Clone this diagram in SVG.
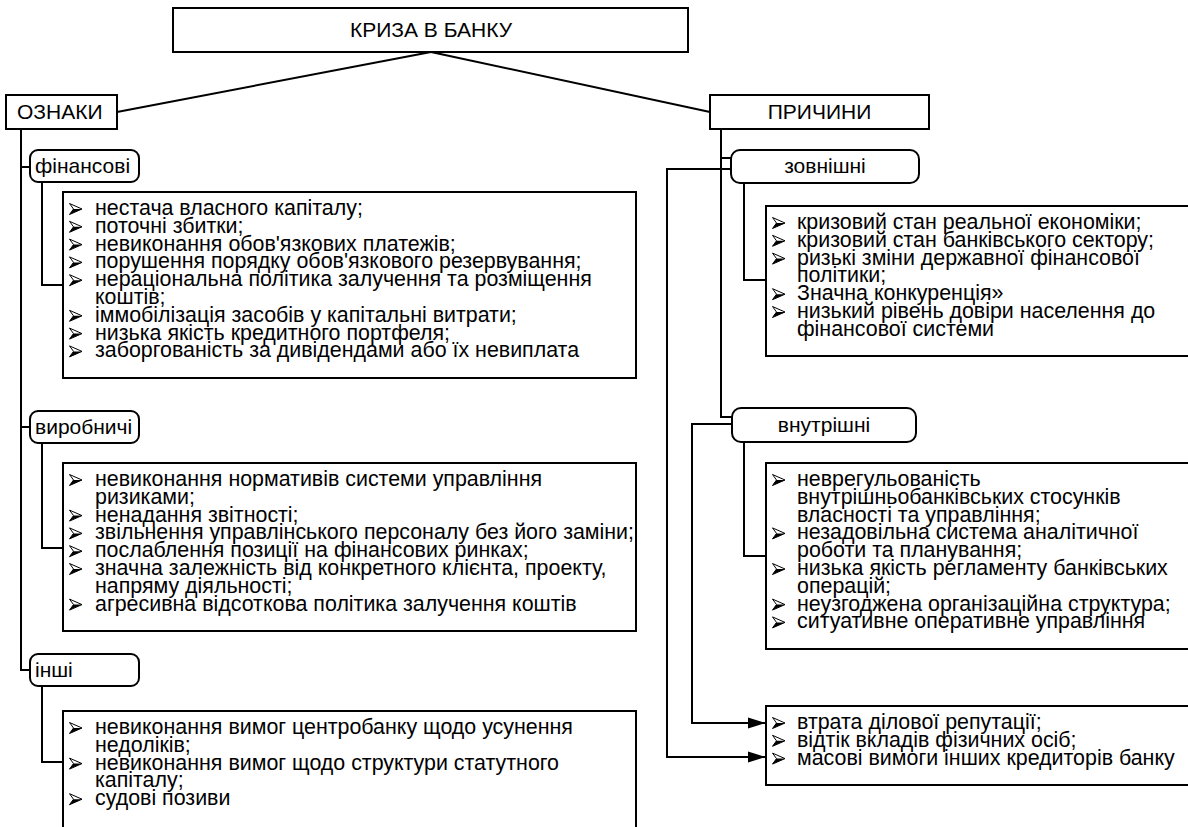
<svg xmlns="http://www.w3.org/2000/svg" xmlns:xlink="http://www.w3.org/1999/xlink" width="1188" height="827" viewBox="0 0 1188 827">
  <defs>
    <style>
      .box{fill:#fff;stroke:#000;stroke-width:2}
      .conn{fill:none;stroke:#000;stroke-width:2}
      text{font-family:"Liberation Sans",Arial,sans-serif;font-size:21px;fill:#000}
      .li text{font-size:21.4px}
      .mid{text-anchor:middle}
    </style>
    <!-- list bullet: shaded arrowhead -->
    <g id="bl">
      <polygon points="0.5,0.5 13,6 0.5,11.5 4.5,6" fill="#fff" stroke="#000" stroke-width="1" stroke-linejoin="round"/>
      <polygon points="4.5,6 13,6 0.5,11.5" fill="#000"/>
    </g>
    <marker id="arrow" markerUnits="userSpaceOnUse" markerWidth="18" markerHeight="12" refX="18" refY="6" orient="auto">
      <path d="M0,0.5 L18,6 L0,11.5 z" fill="#000"/>
    </marker>
  </defs>
  <rect width="1188" height="827" fill="#fff"/>

  <!-- connectors -->
  <g id="connectors" class="conn">
    <line x1="431" y1="52" x2="117" y2="112"/>
    <line x1="431" y1="52" x2="710" y2="112"/>
    <!-- left trunk -->
    <polyline points="21,129 21,670 30,670"/>
    <line x1="21" y1="167" x2="30" y2="167"/>
    <line x1="21" y1="427" x2="30" y2="427"/>
    <polyline points="42,182 42,285 63,285"/>
    <polyline points="42,443 42,548 63,548"/>
    <polyline points="42,686 42,762 63,762"/>
    <!-- right trunk -->
    <polyline points="721,129 721,417 732,417"/>
    <line x1="721" y1="158" x2="731" y2="158"/>
    <polyline points="744,183 744,280 766,280"/>
    <polyline points="744,442 744,556 766,556"/>
    <polyline points="731,169 667,169 667,757 766,757" marker-end="url(#arrow)"/>
    <polyline points="732,424 692,424 692,723 766,723" marker-end="url(#arrow)"/>
  </g>

  <g id="crisis">
    <rect class="box" x="173" y="8" width="515" height="44"/>
    <text class="mid" x="431" y="37">КРИЗА В БАНКУ</text>
  </g>

  <g id="signs">
    <rect class="box" x="6" y="95" width="111" height="34"/>
    <text x="17" y="119">ОЗНАКИ</text>
  </g>

  <g id="causes">
    <rect class="box" x="710" y="95" width="219" height="34"/>
    <text class="mid" x="819.5" y="119">ПРИЧИНИ</text>
  </g>

  <g id="financial">
    <rect class="box" x="30" y="150" width="109" height="32" rx="8"/>
    <text x="35" y="173">фінансові</text>
  </g>

  <g id="financial-list" class="li">
    <rect class="box" x="63" y="192" width="573" height="186"/>
    <use xlink:href="#bl" href="#bl" x="69" y="203"/>
    <use xlink:href="#bl" href="#bl" x="69" y="220.8"/>
    <use xlink:href="#bl" href="#bl" x="69" y="238.6"/>
    <use xlink:href="#bl" href="#bl" x="69" y="256.4"/>
    <use xlink:href="#bl" href="#bl" x="69" y="274.2"/>
    <use xlink:href="#bl" href="#bl" x="69" y="309.8"/>
    <use xlink:href="#bl" href="#bl" x="69" y="327.6"/>
    <use xlink:href="#bl" href="#bl" x="69" y="345.4"/>
    <text x="95" y="215">нестача власного капіталу;</text>
    <text x="95" y="232.8">поточні збитки;</text>
    <text x="95" y="250.6">невиконання обов'язкових платежів;</text>
    <text x="95" y="268.4">порушення порядку обов'язкового резервування;</text>
    <text x="95" y="286.2">нераціональна політика залучення та розміщення</text>
    <text x="95" y="304">коштів;</text>
    <text x="95" y="321.8">іммобілізація засобів у капітальні витрати;</text>
    <text x="95" y="339.6">низька якість кредитного портфеля;</text>
    <text x="95" y="357.4">заборгованість за дивідендами або їх невиплата</text>
  </g>

  <g id="production">
    <rect class="box" x="30" y="411" width="109" height="32" rx="8"/>
    <text x="35" y="434">виробничі</text>
  </g>

  <g id="production-list" class="li">
    <rect class="box" x="63" y="463" width="573" height="168"/>
    <use xlink:href="#bl" href="#bl" x="69" y="474"/>
    <use xlink:href="#bl" href="#bl" x="69" y="509.6"/>
    <use xlink:href="#bl" href="#bl" x="69" y="527.4"/>
    <use xlink:href="#bl" href="#bl" x="69" y="545.2"/>
    <use xlink:href="#bl" href="#bl" x="69" y="563"/>
    <use xlink:href="#bl" href="#bl" x="69" y="598.6"/>
    <text x="95" y="486">невиконання нормативів системи управління</text>
    <text x="95" y="503.8">ризиками;</text>
    <text x="95" y="521.6">ненадання звітності;</text>
    <text x="95" y="539.4">звільнення управлінського персоналу без його заміни;</text>
    <text x="95" y="557.2">послаблення позиції на фінансових ринках;</text>
    <text x="95" y="575">значна залежність від конкретного клієнта, проекту,</text>
    <text x="95" y="592.8">напряму діяльності;</text>
    <text x="95" y="610.6">агресивна відсоткова політика залучення коштів</text>
  </g>

  <g id="other">
    <rect class="box" x="30" y="654" width="109" height="32" rx="8"/>
    <text x="35" y="677">інші</text>
  </g>

  <g id="other-list" class="li">
    <rect class="box" x="63" y="711" width="573" height="130"/>
    <use xlink:href="#bl" href="#bl" x="69" y="722"/>
    <use xlink:href="#bl" href="#bl" x="69" y="757.6"/>
    <use xlink:href="#bl" href="#bl" x="69" y="793.2"/>
    <text x="95" y="734">невиконання вимог центробанку щодо усунення</text>
    <text x="95" y="751.8">недоліків;</text>
    <text x="95" y="769.6">невиконання вимог щодо структури статутного</text>
    <text x="95" y="787.4">капіталу;</text>
    <text x="95" y="805.2">судові позиви</text>
  </g>

  <g id="external">
    <rect class="box" x="731" y="150" width="188" height="33" rx="9"/>
    <text class="mid" x="825" y="173">зовнішні</text>
  </g>

  <g id="external-list" class="li">
    <rect class="box" x="766" y="206" width="430" height="150"/>
    <use xlink:href="#bl" href="#bl" x="772" y="217"/>
    <use xlink:href="#bl" href="#bl" x="772" y="234.8"/>
    <use xlink:href="#bl" href="#bl" x="772" y="252.6"/>
    <use xlink:href="#bl" href="#bl" x="772" y="288.2"/>
    <use xlink:href="#bl" href="#bl" x="772" y="306"/>
    <text x="797" y="229">кризовий стан реальної економіки;</text>
    <text x="797" y="246.8">кризовий стан банківського сектору;</text>
    <text x="797" y="264.6">ризькі зміни державної фінансової</text>
    <text x="797" y="282.4">політики;</text>
    <text x="797" y="300.2">Значна конкуренція»</text>
    <text x="797" y="318">низький рівень довіри населення до</text>
    <text x="797" y="335.8">фінансової системи</text>
  </g>

  <g id="internal">
    <rect class="box" x="732" y="408" width="184" height="34" rx="9"/>
    <text class="mid" x="824" y="432">внутрішні</text>
  </g>

  <g id="internal-list" class="li">
    <rect class="box" x="766" y="463" width="430" height="186"/>
    <use xlink:href="#bl" href="#bl" x="772" y="474"/>
    <use xlink:href="#bl" href="#bl" x="772" y="527.4"/>
    <use xlink:href="#bl" href="#bl" x="772" y="563"/>
    <use xlink:href="#bl" href="#bl" x="772" y="598.6"/>
    <use xlink:href="#bl" href="#bl" x="772" y="616.4"/>
    <text x="797" y="486">неврегульованість</text>
    <text x="797" y="503.8">внутрішньобанківських стосунків</text>
    <text x="797" y="521.6">власності та управління;</text>
    <text x="797" y="539.4">незадовільна система аналітичної</text>
    <text x="797" y="557.2">роботи та планування;</text>
    <text x="797" y="575">низька якість регламенту банківських</text>
    <text x="797" y="592.8">операцій;</text>
    <text x="797" y="610.6">неузгоджена організаційна структура;</text>
    <text x="797" y="628.4">ситуативне оперативне управління</text>
  </g>

  <g id="consequences" class="li">
    <rect class="box" x="766" y="706" width="430" height="79"/>
    <use xlink:href="#bl" href="#bl" x="772" y="717"/>
    <use xlink:href="#bl" href="#bl" x="772" y="734.8"/>
    <use xlink:href="#bl" href="#bl" x="772" y="752.6"/>
    <text x="797" y="729">втрата ділової репутації;</text>
    <text x="797" y="746.8">відтік вкладів фізичних осіб;</text>
    <text x="797" y="764.6">масові вимоги інших кредиторів банку</text>
  </g>
</svg>
